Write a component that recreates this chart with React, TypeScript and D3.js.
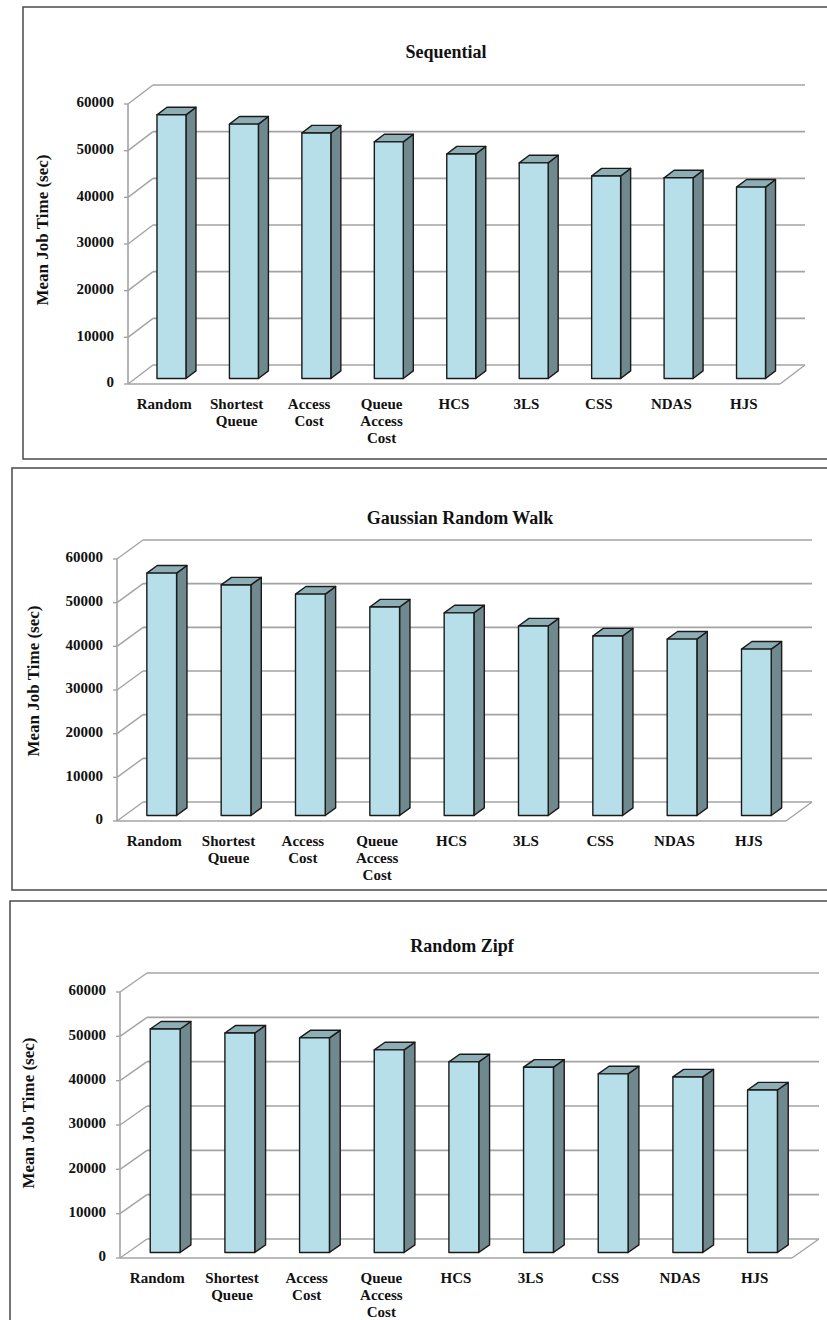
import React from "react";
import * as d3 from "d3";

const categories: string[][] = [
  ["Random"],
  ["Shortest", "Queue"],
  ["Access", "Cost"],
  ["Queue", "Access", "Cost"],
  ["HCS"],
  ["3LS"],
  ["CSS"],
  ["NDAS"],
  ["HJS"],
];
const catKeys = categories.map((c) => c.join(" "));

const sequentialValues = [56500, 54500, 52600, 50700, 48100, 46200, 43400, 43000, 41000];
const gaussianValues = [55500, 52800, 50700, 47750, 46400, 43400, 41100, 40400, 38100];
const zipfValues = [50400, 49500, 48400, 45700, 43000, 41800, 40300, 39600, 36650];

const panelTitles = ["Sequential", "Gaussian Random Walk", "Random Zipf"];
const yAxisTitle = "Mean Job Time (sec)";
const yDomain: [number, number] = [0, 60000];
const yTickCount = 6;

type Layout = {
  frameX: number; frameY: number; frameH: number;
  x0: number; x1: number; yZero: number; yTop: number;
  dx: number; dy: number;
  titleX: number; titleY: number; yTitleX: number; yTitleY: number;
};

const layouts: Layout[] = [
  { frameX: 23, frameY: 7, frameH: 452, x0: 128, x1: 780, yZero: 384, yTop: 104, dx: 25, dy: -19, titleX: 446, titleY: 58, yTitleX: 44, yTitleY: 230 },
  { frameX: 12, frameY: 468, frameH: 422, x0: 117, x1: 786, yZero: 821, yTop: 559, dx: 26, dy: -19, titleX: 460, titleY: 524, yTitleX: 35, yTitleY: 681 },
  { frameX: 10, frameY: 901, frameH: 500, x0: 120, x1: 792, yZero: 1258, yTop: 992, dx: 27, dy: -19, titleX: 462, titleY: 952, yTitleX: 30, yTitleY: 1113 },
];

const FONT = "'Liberation Serif', 'Times New Roman', serif";
const FRONT = "#b7dfe9";
const SIDE = "#6f898f";
const TOP = "#8eaeb6";
const GRID = "#a3a3a3";

function Panel({ values, title, L }: { values: number[]; title: string; L: Layout }) {
  const x = d3.scaleBand<string>().domain(catKeys).range([L.x0, L.x1]).paddingInner(0).paddingOuter(0);
  const y = d3.scaleLinear().domain(yDomain).range([L.yZero, L.yTop]);
  const ticks = y.ticks(yTickCount);
  const bw = x.bandwidth();
  const barW = bw * 0.4;
  const f0 = 0.29;
  const fd = 0.4;
  const ddx = L.dx * fd;
  const ddy = L.dy * fd;

  return (
    <g>
      <rect x={L.frameX} y={L.frameY} width={900} height={L.frameH} fill="none" stroke="#4a4a4a" strokeWidth={1.5} />
      <text x={L.titleX} y={L.titleY} textAnchor="middle" fontFamily={FONT} fontWeight="bold" fontSize={18} fill="#111">
        {title}
      </text>
      <text
        transform={`translate(${L.yTitleX},${L.yTitleY}) rotate(-90)`}
        textAnchor="middle"
        dominantBaseline="middle"
        fontFamily={FONT}
        fontWeight="bold"
        fontSize={17}
        fill="#111"
      >
        {yAxisTitle}
      </text>
      {ticks.map((t) => (
        <g key={t}>
          <line x1={L.x0 + L.dx} x2={L.x1 + L.dx} y1={y(t) + L.dy} y2={y(t) + L.dy} stroke={GRID} strokeWidth={1.6} />
          <line x1={L.x0} x2={L.x0 + L.dx} y1={y(t)} y2={y(t) + L.dy} stroke={GRID} strokeWidth={1.4} />
          <line x1={L.x0 - 4} x2={L.x0} y1={y(t)} y2={y(t)} stroke={GRID} strokeWidth={1.4} />
          <text x={L.x0 - 14} y={y(t)} textAnchor="end" dominantBaseline="middle" fontFamily={FONT} fontWeight="bold" fontSize={15} fill="#111">
            {t}
          </text>
        </g>
      ))}
      <line x1={L.x0} x2={L.x1} y1={L.yZero} y2={L.yZero} stroke={GRID} strokeWidth={1.6} />
      <line x1={L.x1} x2={L.x1 + L.dx} y1={L.yZero} y2={L.yZero + L.dy} stroke={GRID} strokeWidth={1.4} />
      <line x1={L.x0} x2={L.x0} y1={L.yZero} y2={L.yTop} stroke={GRID} strokeWidth={1.6} />
      {values.map((v, i) => {
        const key = catKeys[i];
        const bx = (x(key) as number) + (bw - barW) / 2 + f0 * L.dx;
        const yb = L.yZero + f0 * L.dy;
        const yt = y(v) + f0 * L.dy;
        const side = [
          [bx + barW, yt],
          [bx + barW + ddx, yt + ddy],
          [bx + barW + ddx, yb + ddy],
          [bx + barW, yb],
        ];
        const top = [
          [bx, yt],
          [bx + ddx, yt + ddy],
          [bx + barW + ddx, yt + ddy],
          [bx + barW, yt],
        ];
        return (
          <g key={key} stroke="#1a1a1a" strokeWidth={1.4} strokeLinejoin="round">
            <polygon points={side.map((p) => p.join(",")).join(" ")} fill={SIDE} />
            <polygon points={top.map((p) => p.join(",")).join(" ")} fill={TOP} />
            <rect x={bx} y={yt} width={barW} height={yb - yt} fill={FRONT} />
          </g>
        );
      })}
      {categories.map((lines, i) => {
        const cx = (x(catKeys[i]) as number) + bw / 2;
        return (
          <text key={catKeys[i]} textAnchor="middle" fontFamily={FONT} fontWeight="bold" fontSize={15} fill="#111">
            {lines.map((ln, j) => (
              <tspan key={j} x={cx} y={L.yZero + 25 + j * 17}>
                {ln}
              </tspan>
            ))}
          </text>
        );
      })}
    </g>
  );
}

export default function App() {
  const data = [sequentialValues, gaussianValues, zipfValues];
  return (
    <svg width={827} height={1320} style={{ position: "absolute", left: 0, top: 0, background: "#fff" }}>
      <rect x={0} y={0} width={827} height={1320} fill="#fff" />
      {data.map((vals, i) => (
        <Panel key={i} values={vals} title={panelTitles[i]} L={layouts[i]} />
      ))}
    </svg>
  );
}
